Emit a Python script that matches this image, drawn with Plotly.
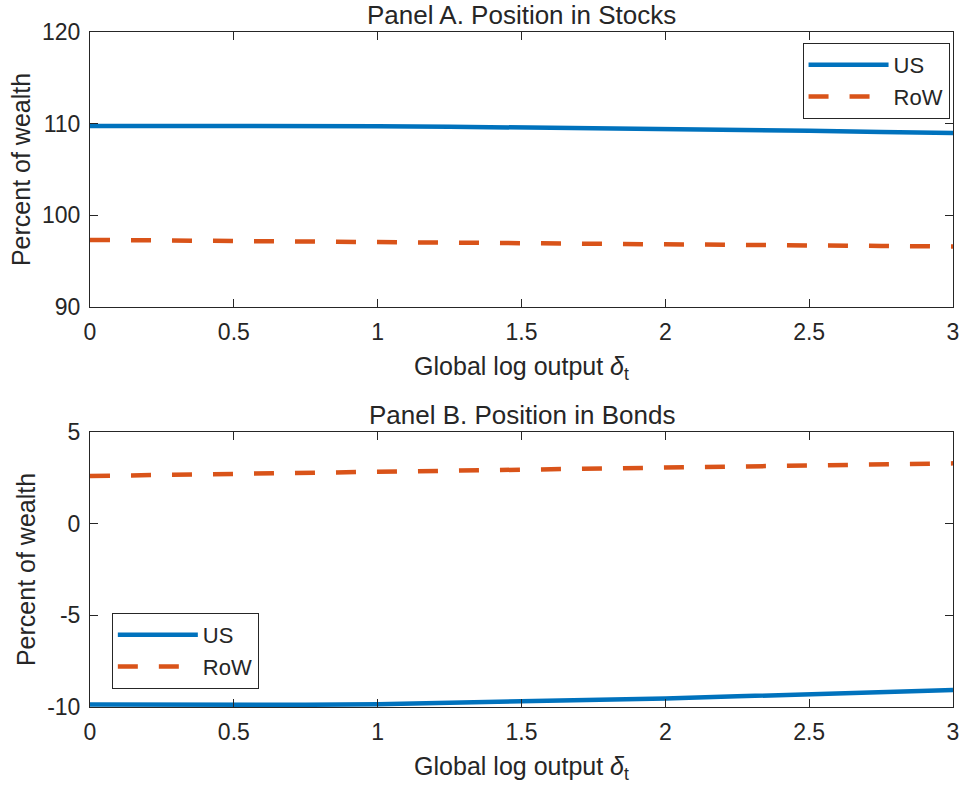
import plotly.graph_objects as go
from plotly.subplots import make_subplots

# Data
delta = [0, 0.25, 0.5, 0.75, 1, 1.25, 1.5, 1.75, 2, 2.25, 2.5, 2.75, 3]
stocks_us = [109.75, 109.77, 109.78, 109.77, 109.72, 109.67, 109.60, 109.53, 109.45, 109.34, 109.22, 109.10, 108.98]
stocks_row = [97.32, 97.27, 97.22, 97.16, 97.10, 97.03, 96.97, 96.91, 96.85, 96.78, 96.72, 96.66, 96.60]
bonds_us = [-9.86, -9.88, -9.89, -9.88, -9.85, -9.78, -9.70, -9.62, -9.53, -9.42, -9.31, -9.19, -9.07]
bonds_row = [2.60, 2.66, 2.72, 2.78, 2.85, 2.91, 2.97, 3.03, 3.08, 3.14, 3.20, 3.25, 3.29]

x_ticks = [0, 0.5, 1, 1.5, 2, 2.5, 3]
x_ticklabels = ["0", "0.5", "1", "1.5", "2", "2.5", "3"]
yA_ticks = [90, 100, 110, 120]
yA_ticklabels = ["90", "100", "110", "120"]
yB_ticks = [-10, -5, 0, 5]
yB_ticklabels = ["-10", "-5", "0", "5"]

panel_titles = ["Panel A. Position in Stocks", "Panel B. Position in Bonds"]
x_title = "Global log output <i>δ</i><sub>t</sub>"
y_title = "Percent of wealth"

BLUE = "#0072BD"
ORANGE = "#D95319"
AXC = "#262626"
FONT = "Liberation Sans, Arial, sans-serif"

fig = make_subplots(rows=2, cols=1, vertical_spacing=0.1852)

fig.add_trace(go.Scatter(x=delta, y=stocks_us, mode="lines", name="US",
                         line=dict(color=BLUE, width=4.5), legend="legend"), row=1, col=1)
fig.add_trace(go.Scatter(x=delta, y=stocks_row, mode="lines", name="RoW",
                         line=dict(color=ORANGE, width=4.5, dash="20px,21px"), legend="legend"), row=1, col=1)
fig.add_trace(go.Scatter(x=delta, y=bonds_us, mode="lines", name="US",
                         line=dict(color=BLUE, width=4.5), legend="legend2"), row=2, col=1)
fig.add_trace(go.Scatter(x=delta, y=bonds_row, mode="lines", name="RoW",
                         line=dict(color=ORANGE, width=4.5, dash="20px,21px"), legend="legend2"), row=2, col=1)

axis_common = dict(showline=True, linecolor=AXC, linewidth=1, mirror="ticks",
                   ticks="inside", ticklen=8, tickcolor=AXC, tickwidth=1,
                   showgrid=False, zeroline=False,
                   tickfont=dict(family=FONT, size=23, color=AXC))

fig.update_xaxes(range=[0, 3], tickvals=x_ticks, ticktext=x_ticklabels,
                 ticklabelstandoff=4,
                 title=dict(text=x_title, font=dict(family=FONT, size=25, color=AXC), standoff=13),
                 **axis_common)
fig.update_yaxes(ticklabelstandoff=4,
                 title=dict(text=y_title, font=dict(family=FONT, size=25, color=AXC), standoff=4),
                 **axis_common)
fig.update_yaxes(range=[90, 120], tickvals=yA_ticks, ticktext=yA_ticklabels, row=1, col=1)
fig.update_yaxes(range=[-10, 5], tickvals=yB_ticks, ticktext=yB_ticklabels, row=2, col=1)

fig.update_layout(
    width=970, height=790,
    margin=dict(l=90, r=11, t=32, b=83),
    plot_bgcolor="white", paper_bgcolor="white",
    font=dict(family=FONT, color=AXC),
    xaxis=dict(domain=[0, 1]), xaxis2=dict(domain=[0, 1]),
    yaxis=dict(domain=[0.5926, 1.0]), yaxis2=dict(domain=[0.0, 0.4074]),
    legend=dict(x=0.996, y=0.9837, xanchor="right", yanchor="top",
                bordercolor=AXC, borderwidth=1, bgcolor="white",
                font=dict(family=FONT, size=22, color=AXC), itemwidth=80,
                tracegroupgap=0),
    legend2=dict(x=0.0253, y=0.0267, xanchor="left", yanchor="bottom",
                 bordercolor=AXC, borderwidth=1, bgcolor="white",
                 font=dict(family=FONT, size=22, color=AXC), itemwidth=80,
                 tracegroupgap=0),
    annotations=[
        dict(text=panel_titles[0], x=0.5, y=1.0, xref="paper", yref="paper",
             xanchor="center", yanchor="bottom", showarrow=False,
             font=dict(family=FONT, size=26, color=AXC)),
        dict(text=panel_titles[1], x=0.5, y=0.4074, xref="paper", yref="paper",
             xanchor="center", yanchor="bottom", showarrow=False,
             font=dict(family=FONT, size=26, color=AXC)),
    ],
)

fig.write_html("out.html")
